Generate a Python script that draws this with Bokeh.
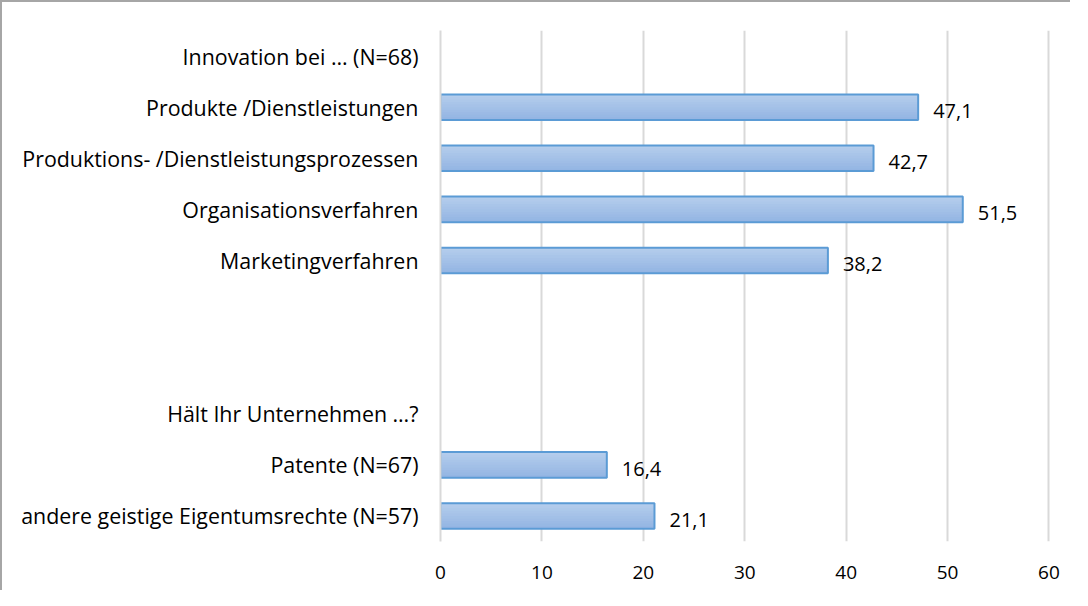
from bokeh.plotting import figure
from bokeh.models import ColumnDataSource, FactorRange, Range1d, FixedTicker
from bokeh.transform import dodge
from bokeh.core.properties import value
from bokeh.embed import file_html
from bokeh.resources import INLINE

categories = [
    "Innovation bei … (N=68)",
    "Produkte /Dienstleistungen",
    "Produktions- /Dienstleistungsprozessen",
    "Organisationsverfahren",
    "Marketingverfahren",
    " ",
    "  ",
    "Hält Ihr Unternehmen …?",
    "Patente (N=67)",
    "andere geistige Eigentumsrechte (N=57)",
]
values = [None, 47.1, 42.7, 51.5, 38.2, None, None, None, 16.4, 21.1]
x_ticks = [0, 10, 20, 30, 40, 50, 60]

bar_cats = [c for c, v in zip(categories, values) if v is not None]
bar_vals = [v for v in values if v is not None]
bar_labels = [f"{v:.1f}".replace(".", ",") for v in bar_vals]

src = ColumnDataSource(dict(cat=bar_cats, val=bar_vals, lbl=bar_labels))

FONT = "Open Sans"

p = figure(
    width=1070, height=590,
    y_range=FactorRange(factors=list(reversed(categories)), range_padding=0),
    x_range=Range1d(0, 60.15),
    output_backend="svg", toolbar_location=None,
    min_border_left=438, min_border_right=22,
    min_border_top=28, min_border_bottom=51,
)
p.styles = {"border-left": "2px solid #a6a6a6", "border-top": "2px solid #a6a6a6"}
p.outline_line_color = None
p.background_fill_color = "white"
p.border_fill_color = "white"

# gridlines
p.xgrid.grid_line_color = "#d9d9d9"
p.xgrid.grid_line_width = 2
p.ygrid.grid_line_color = None
p.xaxis.ticker = FixedTicker(ticks=x_ticks)

# gradient bars built from overlapping strips
BAR_H = 0.5
N = 10
top_rgb = (0xb6, 0xce, 0xed)
bot_rgb = (0x92, 0xb4, 0xe2)
for k in range(N):
    t = (k + 0.5) / N
    col = tuple(int(round(a + (b - a) * t)) for a, b in zip(top_rgb, bot_rgb))
    hexcol = "#%02x%02x%02x" % col
    off = BAR_H / 2 - (k + 0.5) * BAR_H / N
    h = BAR_H / N + (0.025 if k < N - 1 else 0.0)
    off_adj = off - (0.0125 if k < N - 1 else 0.0)
    p.hbar(y=dodge("cat", off_adj, range=p.y_range), left=0, right="val",
           height=h, source=src, fill_color=hexcol, line_color=None)
p.hbar(y="cat", left=0, right="val", height=BAR_H, source=src,
       fill_color=None, line_color="#5b9bd5", line_width=2)

p.text(x="val", y="cat", text="lbl", source=src, x_offset=15, y_offset=4,
       text_align="left", text_baseline="middle",
       text_font=value(FONT), text_font_size="20px", text_color="#000000")

# y axis
ya = p.yaxis[0]
ya.axis_line_color = "#d9d9d9"
ya.axis_line_width = 2
ya.major_tick_line_color = None
ya.minor_tick_line_color = None
ya.major_tick_out = 0
ya.major_label_standoff = 22
ya.major_label_text_font = FONT
ya.major_label_text_font_size = "21.4px"
ya.major_label_text_color = "#000000"

# x axis
xa = p.xaxis[0]
xa.axis_line_color = None
xa.major_tick_line_color = None
xa.minor_tick_line_color = None
xa.major_tick_out = 0
xa.major_label_standoff = 24
xa.major_label_text_font = FONT
xa.major_label_text_font_size = "19px"
xa.major_label_text_color = "#000000"

open("out.html", "w").write(file_html(p, INLINE))
